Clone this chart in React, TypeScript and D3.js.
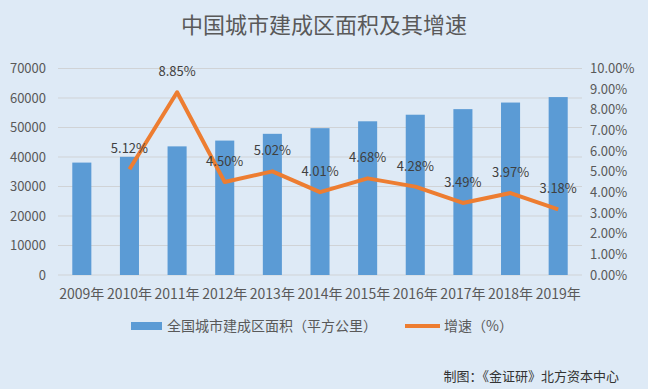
import React from "react";
import * as d3 from "d3";

const years = ["2009年", "2010年", "2011年", "2012年", "2013年", "2014年", "2015年", "2016年", "2017年", "2018年", "2019年"];
const areaValues = [38107, 40058, 43603, 45566, 47855, 49773, 52102, 54331, 56225, 58456, 60312];
const growthYears = ["2010年", "2011年", "2012年", "2013年", "2014年", "2015年", "2016年", "2017年", "2018年", "2019年"];
const growthValues = [5.12, 8.85, 4.5, 5.02, 4.01, 4.68, 4.28, 3.49, 3.97, 3.18];
const leftTicks = [0, 10000, 20000, 30000, 40000, 50000, 60000, 70000];
const rightTicks = [0, 1, 2, 3, 4, 5, 6, 7, 8, 9, 10];

const W = 648, H = 389;
const FONT = "'Noto Sans CJK SC', 'Noto Sans', sans-serif";
const TXT = "#595959";

export default function App() {
  const left = 58, right = 582, top = 68.5, bottom = 275;
  const x = d3.scaleBand<string>().domain(years).range([left, right]).paddingInner(0.6).paddingOuter(0.3);
  const xc = (c: string) => (x(c) as number) + x.bandwidth() / 2;
  const yL = d3.scaleLinear().domain([0, 70000]).range([bottom, top]);
  const yR = d3.scaleLinear().domain([0, 10]).range([bottom, top]);
  const line = d3.line<number>().x((_, i) => xc(growthYears[i])).y((d) => yR(d));

  return (
    <svg width={W} height={H} style={{ position: "absolute", left: 0, top: 0, display: "block" }} fontFamily={FONT}>
      <rect x={0} y={0} width={W} height={H} fill="#DEEAF6" />
      <text x={324} y={33} textAnchor="middle" fontSize={22} fill={TXT}>中国城市建成区面积及其增速</text>
      {leftTicks.map((t) => (
        <g key={t}>
          <line x1={left} x2={right} y1={yL(t)} y2={yL(t)} stroke="#D0D3D6" strokeWidth={1} />
          <text x={46} y={yL(t) + 4.5} textAnchor="end" fontSize={13} fill={TXT}>{t}</text>
        </g>
      ))}
      {rightTicks.map((t) => (
        <text key={t} x={590} y={yR(t) + 4.5} textAnchor="start" fontSize={13} fill={TXT}>{t.toFixed(2) + "%"}</text>
      ))}
      {years.map((c, i) => (
        <rect key={c} x={x(c)} y={yL(areaValues[i])} width={x.bandwidth()} height={bottom - yL(areaValues[i])} fill="#5B9BD5" />
      ))}
      {years.map((c) => (
        <text key={c} x={xc(c)} y={299} textAnchor="middle" fontSize={14} fill={TXT}>{c}</text>
      ))}
      <path d={line(growthValues) || ""} fill="none" stroke="#ED7D31" strokeWidth={4} strokeLinejoin="round" />
      {growthValues.map((v, i) => (
        <text key={i} x={xc(growthYears[i])} y={yR(v) - 16} textAnchor="middle" fontSize={13} fill="#404040">{v.toFixed(2) + "%"}</text>
      ))}
      <rect x={131} y={322} width={31} height={8} fill="#5B9BD5" />
      <text x={167} y={331} fontSize={14} fill={TXT}>全国城市建成区面积（平方公里）</text>
      <line x1={405} x2={440} y1={326} y2={326} stroke="#ED7D31" strokeWidth={4} />
      <text x={444} y={331} fontSize={14} fill={TXT}>增速（%）</text>
      <text x={619} y={381} textAnchor="end" fontSize={13} fill="#333333">制图：《金证研》北方资本中心</text>
    </svg>
  );
}
